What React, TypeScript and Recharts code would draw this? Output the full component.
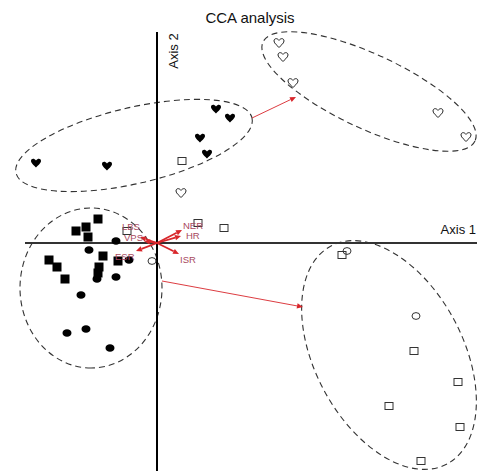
import React from "react";
import {
  ScatterChart, Scatter, XAxis, YAxis, ReferenceLine, ReferenceDot,
} from "recharts";

// site scores (CCA axis 1 / axis 2)
const filledHearts = [
  { x: -1.21, y: 0.8 }, { x: -0.5, y: 0.77 }, { x: 0.59, y: 1.34 },
  { x: 0.73, y: 1.25 }, { x: 0.43, y: 1.05 }, { x: 0.5, y: 0.89 },
];
const openHearts = [
  { x: 1.22, y: 2.0 }, { x: 1.26, y: 1.86 }, { x: 1.36, y: 1.6 },
  { x: 2.81, y: 1.3 }, { x: 3.09, y: 1.06 }, { x: 0.24, y: 0.5 },
];
const filledSquares = [
  { x: -0.59, y: 0.24 }, { x: -0.71, y: 0.16 }, { x: -0.81, y: 0.12 },
  { x: -0.69, y: 0.06 }, { x: -0.54, y: -0.13 }, { x: -1.08, y: -0.17 },
  { x: -1.0, y: -0.24 }, { x: -0.92, y: -0.36 }, { x: -0.58, y: -0.24 },
  { x: -0.59, y: -0.3 }, { x: -0.39, y: -0.18 },
];
const openSquares = [
  { x: 0.25, y: 0.82 }, { x: 0.41, y: 0.2 }, { x: 0.67, y: 0.15 },
  { x: 1.85, y: -0.12 }, { x: 2.57, y: -1.08 }, { x: 3.01, y: -1.39 },
  { x: 2.32, y: -1.63 }, { x: 3.03, y: -1.84 }, { x: 2.64, y: -2.18 },
  { x: -0.3, y: 0.12 },
];
const filledCircles = [
  { x: -0.41, y: 0.02 }, { x: -0.68, y: -0.07 }, { x: -0.28, y: -0.17 },
  { x: -0.6, y: -0.36 }, { x: -0.41, y: -0.34 }, { x: -0.76, y: -0.52 },
  { x: -0.9, y: -0.9 }, { x: -0.71, y: -0.86 }, { x: -0.47, y: -1.05 },
];
const openCircles = [
  { x: -0.05, y: -0.18 }, { x: 1.9, y: -0.08 }, { x: 2.59, y: -0.73 },
];

// environmental vectors (tip + label position)
const vectors = [
  { name: "NER", x: 0.25, y: 0.13, lx: 0.26, ly: 0.14 },
  { name: "HR", x: 0.24, y: 0.07, lx: 0.29, ly: 0.04 },
  { name: "ISR", x: 0.22, y: -0.11, lx: 0.23, ly: -0.2 },
  { name: "ESR", x: -0.21, y: -0.08, lx: -0.42, ly: -0.17 },
  { name: "LBS", x: -0.17, y: 0.06, lx: -0.35, ly: 0.135 },
  { name: "VPS", x: -0.13, y: 0.02, lx: -0.33, ly: 0.025 },
];

// group ellipses: major axis ends + semi-minor
const ellipses = [
  { x1: -1.41, y1: 0.7, x2: 0.95, y2: 1.25, b: 0.38 },
  { x1: 1.06, y1: 2.01, x2: 3.18, y2: 1.02, b: 0.37 },
  { x1: -0.66, y1: 0.35, x2: -0.66, y2: -1.25, b: 0.71 },
  { x1: 1.74, y1: -0.03, x2: 2.9, y2: -2.21, b: 0.74 },
];

// group shift arrows
const shifts = [
  { x1: 0.95, y1: 1.25, x2: 1.39, y2: 1.46 },
  { x1: 0.05, y1: -0.38, x2: 1.46, y2: -0.64 },
];

const RED = "#d8262b";
const LABEL = "#a84860";

function heartPath(cx: number, cy: number) {
  return `M${cx},${cy + 4.5} C${cx - 1},${cy + 3} ${cx - 5},${cy + 0.5} ${cx - 5},${cy - 2}
    C${cx - 5},${cy - 4.8} ${cx - 1.8},${cy - 5.2} ${cx},${cy - 2.6}
    C${cx + 1.8},${cy - 5.2} ${cx + 5},${cy - 4.8} ${cx + 5},${cy - 2}
    C${cx + 5},${cy + 0.5} ${cx + 1},${cy + 3} ${cx},${cy + 4.5} Z`;
}

const FilledHeart = (p: any) => <path d={heartPath(p.cx, p.cy)} fill="#000" />;
const OpenHeart = (p: any) => (
  <path d={heartPath(p.cx, p.cy)} fill="#fff" stroke="#222" strokeWidth={1} />
);
const FilledSquare = (p: any) => <rect x={p.cx - 4.5} y={p.cy - 4.5} width={9} height={9} fill="#000" />;
const OpenSquare = (p: any) => (
  <rect x={p.cx - 4} y={p.cy - 3.5} width={8} height={7} fill="none" stroke="#333" strokeWidth={1} />
);
const FilledCircle = (p: any) => <ellipse cx={p.cx} cy={p.cy} rx={4.5} ry={3.8} fill="#000" />;
const OpenCircle = (p: any) => (
  <ellipse cx={p.cx} cy={p.cy} rx={4} ry={3.4} fill="none" stroke="#333" strokeWidth={1} />
);

function Arrow(p: any, width: number, head: number) {
  const { x1, y1, x2, y2 } = p;
  const ang = Math.atan2(y2 - y1, x2 - x1);
  const hx = x2 - head * Math.cos(ang);
  const hy = y2 - head * Math.sin(ang);
  const w = head * 0.45;
  const px = -Math.sin(ang) * w;
  const py = Math.cos(ang) * w;
  return (
    <g>
      <line x1={x1} y1={y1} x2={hx} y2={hy} stroke={RED} strokeWidth={width} />
      <path d={`M${x2},${y2} L${hx + px},${hy + py} L${hx - px},${hy - py} Z`} fill={RED} />
    </g>
  );
}

function EllipseShape(p: any, ratio: number) {
  const { x1, y1, x2, y2 } = p;
  const cx = (x1 + x2) / 2;
  const cy = (y1 + y2) / 2;
  const a = Math.hypot(x2 - x1, y2 - y1) / 2;
  const deg = (Math.atan2(y2 - y1, x2 - x1) * 180) / Math.PI;
  return (
    <ellipse
      cx={cx} cy={cy} rx={a} ry={a * ratio}
      transform={`rotate(${deg} ${cx} ${cy})`}
      fill="none" stroke="#333" strokeWidth={1.1} strokeDasharray="6 4"
    />
  );
}

export default function App() {
  return (
    <div style={{ position: "absolute", left: 0, top: 0, width: 477, height: 471, background: "#fff" }}>
      <div
        style={{
          position: "absolute", left: 0, top: 9, width: 500, textAlign: "center",
          fontFamily: "'Liberation Sans', Arial, sans-serif", fontSize: 15, color: "#111",
        }}
      >
        CCA analysis
      </div>
      <ScatterChart width={477} height={471} margin={{ top: 0, right: 0, bottom: 0, left: 0 }}>
        <XAxis type="number" dataKey="x" hide domain={[-1.57, 3.2]} allowDataOverflow />
        <YAxis type="number" dataKey="y" hide domain={[-2.28, 2.43]} allowDataOverflow />

        {ellipses.map((e, i) => {
          const half = Math.hypot(e.x2 - e.x1, e.y2 - e.y1) / 2;
          return (
            <ReferenceLine
              key={"e" + i}
              segment={[{ x: e.x1, y: e.y1 }, { x: e.x2, y: e.y2 }]}
              ifOverflow="visible"
              shape={(p: any) => EllipseShape(p, e.b / half)}
            />
          );
        })}

        <ReferenceLine
          segment={[{ x: -1.32, y: 0 }, { x: 3.2, y: 0 }]}
          stroke="#333" strokeWidth={2} ifOverflow="visible"
        />
        <ReferenceLine
          segment={[{ x: 0, y: 2.11 }, { x: 0, y: -2.28 }]}
          stroke="#000" strokeWidth={2} ifOverflow="visible"
        />

        {shifts.map((s, i) => (
          <ReferenceLine
            key={"s" + i}
            segment={[{ x: s.x1, y: s.y1 }, { x: s.x2, y: s.y2 }]}
            ifOverflow="visible"
            shape={(p: any) => Arrow(p, 0.9, 6)}
          />
        ))}

        <Scatter data={filledHearts} shape={FilledHeart} isAnimationActive={false} />
        <Scatter data={openHearts} shape={OpenHeart} isAnimationActive={false} />
        <Scatter data={filledSquares} shape={FilledSquare} isAnimationActive={false} />
        <Scatter data={openSquares} shape={OpenSquare} isAnimationActive={false} />
        <Scatter data={filledCircles} shape={FilledCircle} isAnimationActive={false} />
        <Scatter data={openCircles} shape={OpenCircle} isAnimationActive={false} />

        {vectors.map((v) => (
          <ReferenceLine
            key={"v" + v.name}
            segment={[{ x: 0, y: 0 }, { x: v.x, y: v.y }]}
            ifOverflow="visible"
            shape={(p: any) => Arrow(p, 1.8, 6)}
          />
        ))}
        {vectors.map((v) => (
          <ReferenceDot
            key={"l" + v.name}
            x={v.lx} y={v.ly} ifOverflow="visible"
            shape={(p: any) => (
              <text x={p.cx} y={p.cy} fill={LABEL} fontSize={9.5}
                fontFamily="'Liberation Sans', Arial, sans-serif">
                {v.name}
              </text>
            )}
          />
        ))}

        <ReferenceDot
          x={3.19} y={0.09} ifOverflow="visible"
          shape={(p: any) => (
            <text x={p.cx} y={p.cy} textAnchor="end" fontSize={13} fill="#111"
              fontFamily="'Liberation Sans', Arial, sans-serif">
              Axis 1
            </text>
          )}
        />
        <ReferenceDot
          x={0.21} y={1.92} ifOverflow="visible"
          shape={(p: any) => (
            <text x={p.cx} y={p.cy} textAnchor="middle" fontSize={13} fill="#111"
              transform={`rotate(-90 ${p.cx} ${p.cy})`}
              fontFamily="'Liberation Sans', Arial, sans-serif">
              Axis 2
            </text>
          )}
        />
      </ScatterChart>
    </div>
  );
}
